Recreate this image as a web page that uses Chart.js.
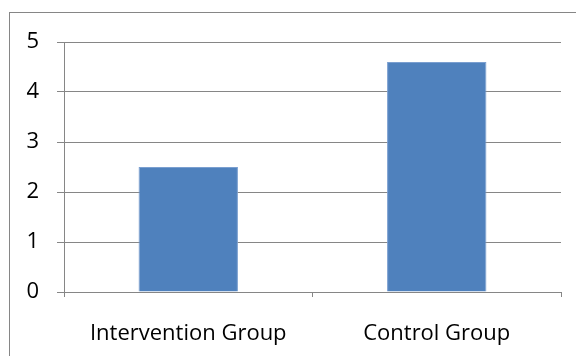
<!DOCTYPE html>
<html>
<head>
<meta charset="utf-8">
<script src="https://cdn.jsdelivr.net/npm/chart.js@4/dist/chart.umd.min.js"></script>
<style>
  html, body { margin: 0; padding: 0; background: #fff; }
  #wrap { width: 576px; height: 356px; position: relative; }
</style>
</head>
<body>
<div id="wrap"><canvas id="chart" width="576" height="356"></canvas></div>
<script>
const categories = ['Intervention Group', 'Control Group'];
const values = [2.5, 4.6];
const yTicks = [0, 1, 2, 3, 4, 5];

const gray = '#868686';
const font = { family: 'Open Sans', size: 22 };

// outer frame like the office chart border
const framePlugin = {
  id: 'frame',
  beforeDraw(chart) {
    const ctx = chart.ctx;
    ctx.save();
    ctx.strokeStyle = gray;
    ctx.lineWidth = 1;
    ctx.strokeRect(9.5, 12.5, 600, 400);
    ctx.restore();
  }
};

new Chart(document.getElementById('chart'), {
  type: 'bar',
  data: {
    labels: categories,
    datasets: [{
      data: values,
      backgroundColor: '#4F81BD',
      borderColor: '#7A9FD0',
      borderWidth: 1,
      categoryPercentage: 0.8,
      barPercentage: 0.5
    }]
  },
  options: {
    responsive: false,
    animation: false,
    layout: { padding: { top: 42, right: 15, left: 0, bottom: 0 } },
    plugins: { legend: { display: false }, tooltip: { enabled: false } },
    scales: {
      x: {
        grid: { drawOnChartArea: false, drawTicks: true, tickLength: 5, color: gray, offset: true },
        border: { color: gray, width: 1 },
        ticks: { color: '#000', font, padding: 24, maxRotation: 0 },
        afterFit: (s) => { s.height = 64; }
      },
      y: {
        min: 0,
        max: 5,
        afterBuildTicks: (s) => { s.ticks = yTicks.map(v => ({ value: v })); },
        grid: { color: gray, tickLength: 7 },
        border: { color: gray, width: 1 },
        ticks: { color: '#000', font, padding: 18 },
        afterFit: (s) => { s.width = 64; }
      }
    }
  },
  plugins: [framePlugin]
});
</script>
</body>
</html>
